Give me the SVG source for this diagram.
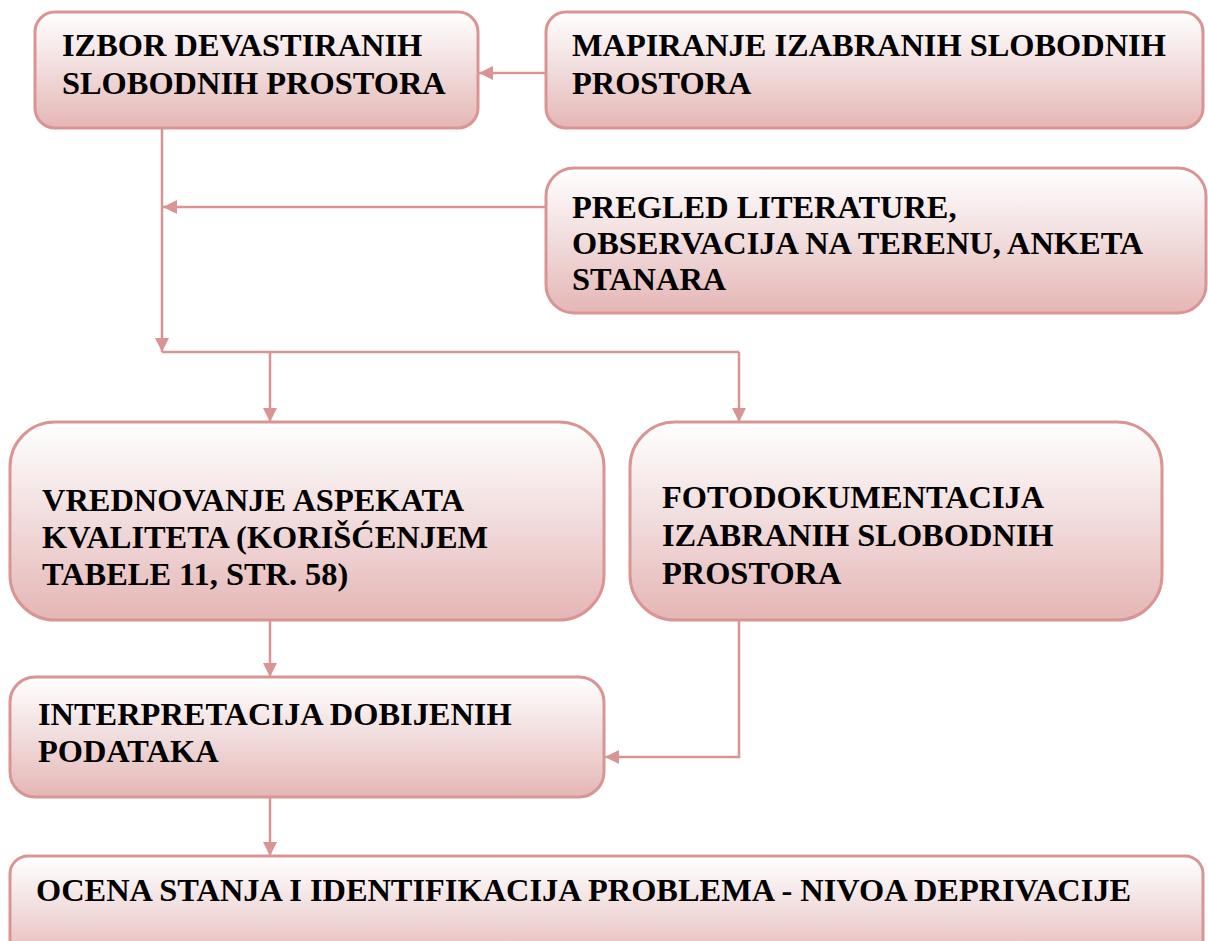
<svg xmlns="http://www.w3.org/2000/svg" width="1208" height="941" viewBox="0 0 1208 941">
<defs>
<linearGradient id="g" x1="0" y1="0" x2="0" y2="1">
<stop offset="0" stop-color="#ffffff"/>
<stop offset="0.5" stop-color="#f1dcdc"/>
<stop offset="1" stop-color="#e5b6b5"/>
</linearGradient>
<marker id="ah" viewBox="0 0 10 10" refX="10" refY="5" markerWidth="5.6" markerHeight="5.6" orient="auto" markerUnits="strokeWidth">
<path d="M0,0 L10,5 L0,10 z" fill="#d99594"/>
</marker>
<style>
.box{fill:url(#g);stroke:#d99594;stroke-width:3}
.t{font-family:"Liberation Serif","Times New Roman",serif;font-weight:bold;font-size:32.4px;fill:#000}
.c{fill:none;stroke:#d99594;stroke-width:2.5}
</style>
</defs>
<rect width="1208" height="941" fill="#fff"/>
<g id="connectors">
<line class="c" x1="546" y1="73" x2="479" y2="73" marker-end="url(#ah)"/>
<line class="c" x1="162" y1="128" x2="162" y2="352" marker-end="url(#ah)"/>
<line class="c" x1="546" y1="207" x2="163" y2="207" marker-end="url(#ah)"/>
<line class="c" x1="162" y1="352" x2="739" y2="352"/>
<line class="c" x1="270" y1="352" x2="270" y2="422" marker-end="url(#ah)"/>
<line class="c" x1="739" y1="352" x2="739" y2="422" marker-end="url(#ah)"/>
<line class="c" x1="270" y1="620" x2="270" y2="677" marker-end="url(#ah)"/>
<polyline class="c" points="739,620 739,757 605,757" marker-end="url(#ah)"/>
<line class="c" x1="270" y1="797" x2="270" y2="856" marker-end="url(#ah)"/>
</g>
<g id="n1">
<rect class="box" x="35" y="12" width="443" height="116" rx="20"/>
<text class="t" x="62" y="56">IZBOR DEVASTIRANIH</text>
<text class="t" x="62" y="94">SLOBODNIH PROSTORA</text>
</g>
<g id="n2">
<rect class="box" x="546" y="12" width="657" height="116" rx="20"/>
<text class="t" x="572" y="56">MAPIRANJE IZABRANIH SLOBODNIH</text>
<text class="t" x="572" y="94">PROSTORA</text>
</g>
<g id="n3">
<rect class="box" x="546" y="168" width="660" height="145" rx="28"/>
<text class="t" x="572" y="218">PREGLED LITERATURE,</text>
<text class="t" x="572" y="254">OBSERVACIJA NA TERENU, ANKETA</text>
<text class="t" x="572" y="290">STANARA</text>
</g>
<g id="n4">
<rect class="box" x="10" y="422" width="594" height="198" rx="45"/>
<text class="t" x="42" y="511">VREDNOVANJE ASPEKATA</text>
<text class="t" x="42" y="548">KVALITETA (KORIŠĆENJEM</text>
<text class="t" x="42" y="585">TABELE 11, STR. 58)</text>
</g>
<g id="n5">
<rect class="box" x="630" y="422" width="532" height="198" rx="45"/>
<text class="t" x="662" y="508">FOTODOKUMENTACIJA</text>
<text class="t" x="662" y="546">IZABRANIH SLOBODNIH</text>
<text class="t" x="662" y="584">PROSTORA</text>
</g>
<g id="n6">
<rect class="box" x="10" y="677" width="594" height="120" rx="25"/>
<text class="t" x="38" y="725">INTERPRETACIJA DOBIJENIH</text>
<text class="t" x="38" y="762">PODATAKA</text>
</g>
<g id="n7">
<rect class="box" x="10" y="856" width="1193" height="110" rx="18"/>
<text class="t" x="36" y="901">OCENA STANJA I IDENTIFIKACIJA PROBLEMA - NIVOA DEPRIVACIJE</text>
</g>
</svg>
